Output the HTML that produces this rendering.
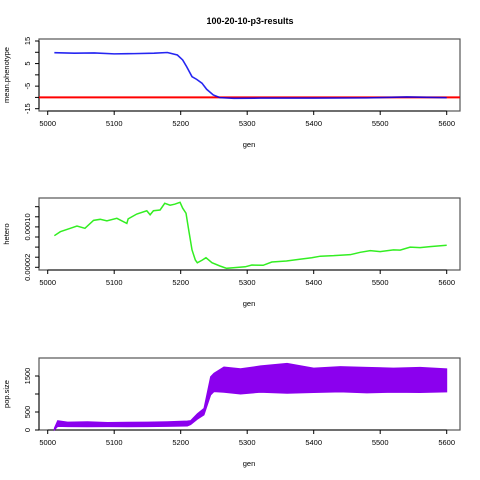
<!DOCTYPE html>
<html><head><meta charset="utf-8"><style>
body{margin:0;background:#fff}
svg{display:block;font-family:"Liberation Sans",Arial,sans-serif}
</style></head><body>
<svg id="c" width="480" height="480" viewBox="0 0 480 480">
<text x="250" y="24" font-size="9" font-weight="bold" text-anchor="middle">100-20-10-p3-results</text>
</svg>
<script>
// ---- data ----
const xTicks = [5000, 5100, 5200, 5300, 5400, 5500, 5600];
const phenoGen = [5010,5040,5070,5100,5130,5160,5180,5195,5203,5209,5217,5224,5232,5239,5249,5259,5280,5320,5400,5480,5540,5600];
const phenoVal = [9.8,9.6,9.7,9.3,9.4,9.6,9.9,8.8,6.6,3.6,-0.8,-2,-3.7,-6.4,-8.9,-10.1,-10.4,-10.3,-10.3,-10.2,-9.8,-10.1];
const optimum = [-10];
const phenoTicks = [15,10,5,0,-5,-10,-15];
const phenoLabels = ["15","","5","","-5","","-15"];
const heteroGen = [5010,5019,5034,5044,5056,5069,5079,5089,5104,5119,5121,5134,5149,5154,5159,5169,5176,5184,5191,5199,5203,5208,5212,5217,5222,5225,5232,5238,5247,5259,5269,5279,5297,5307,5324,5337,5359,5379,5397,5410,5430,5455,5470,5485,5500,5520,5530,5545,5560,5575,5600];
const heteroVal = [8.26,9.05,9.72,10.18,9.72,11.3,11.5,11.2,11.7,10.7,11.6,12.55,13.2,12.4,13.2,13.35,14.67,14.3,14.5,14.87,13.7,12.7,9.4,5.45,3.45,2.9,3.4,3.9,2.9,2.26,1.8,1.9,2.1,2.45,2.4,3.05,3.25,3.6,3.9,4.2,4.3,4.5,4.97,5.3,5.1,5.45,5.4,6.0,5.9,6.1,6.36];
const heteroTicks = [14,12,10,8,6,4,2];
const heteroLabels = ["","","0.00010","","","","0.00002"];
const popGen = [5010,5015,5030,5060,5090,5120,5150,5180,5210,5215,5225,5235,5245,5250,5265,5290,5320,5360,5400,5440,5480,5520,5560,5600];
const popLow = [0,100,95,90,95,90,95,100,110,150,300,420,970,1065,1050,1000,1050,1020,1040,1060,1030,1050,1040,1060];
const popHigh = [50,260,220,230,210,215,220,230,250,260,450,600,1480,1575,1750,1700,1780,1850,1720,1760,1740,1720,1740,1700];
const popTicks = [0,500,1000,1500];
const popLabels = ["0","500","","1500"];
// ---- drawing ----
const svg = document.getElementById('c');
const NS = 'http://www.w3.org/2000/svg';
function mk(tag, attrs, parent){const e=document.createElementNS(NS,tag);for(const k in attrs)e.setAttribute(k,attrs[k]);(parent||svg).appendChild(e);return e;}
const xs = g => 47.7 + (g-5000)/600*399;
function panel(top, name, ylab, yScale, ticks, labels){
  const g = mk('g',{});
  
  
  const f = mk('rect',{x:39,y:top,width:421,height:72,fill:'none',stroke:'#555','stroke-width':1.2},g);
  
  
  const bot = top+72;
  mk('line',{x1:xs(5000),x2:xs(5600),y1:bot,y2:bot,stroke:'#000'},g);
  xTicks.forEach(t=>{
    mk('line',{x1:xs(t),x2:xs(t),y1:bot,y2:bot+4,stroke:'#000'},g);
    const tx = mk('text',{x:xs(t),y:bot+15,'font-size':7.5,'text-anchor':'middle'},g);
    tx.textContent = t;
    
    
  });
  const xl = mk('text',{x:249,y:bot+36,'font-size':7.5,'text-anchor':'middle'},g);
  xl.textContent='gen';
  
  
  const y0 = yScale(ticks[0]), y1 = yScale(ticks[ticks.length-1]);
  mk('line',{x1:39,x2:39,y1:y0,y2:y1,stroke:'#000'},g);
  ticks.forEach((t,i)=>{
    const y=yScale(t);
    mk('line',{x1:35,x2:39,y1:y,y2:y,stroke:'#000'},g);
    if(labels[i]){
      const tx = mk('text',{x:30,y:y,'font-size':7.5,'text-anchor':'middle',transform:`rotate(-90 30 ${y})`},g);
      tx.textContent=labels[i];
      
      
    }
  });
  const yl = mk('text',{x:9,y:top+36,'font-size':7.5,'text-anchor':'middle',transform:`rotate(-90 9 ${top+36})`},g);
  yl.textContent=ylab;
  
  
  return g;
}
// panel 1
const y1s = v => 41 + (15-v)/30*67.7;
const g1 = panel(39,'phenotype','mean.phenotype',y1s,phenoTicks,phenoLabels);
const red = mk('line',{x1:39,x2:460,y1:y1s(optimum[0]),y2:y1s(optimum[0]),stroke:'#ff0000','stroke-width':2},g1);


const bl = mk('polyline',{points:phenoGen.map((g,i)=>xs(g)+','+y1s(phenoVal[i])).join(' '),fill:'none',stroke:'#0000ee','stroke-width':1.6,'stroke-opacity':0.85},g1);


// panel 2
const y2s = v => 267.3 - (v-2)/2*10.1;
const g2 = panel(198,'hetero','hetero',y2s,heteroTicks,heteroLabels);
const gl = mk('polyline',{points:heteroGen.map((g,i)=>xs(g)+','+y2s(heteroVal[i])).join(' '),fill:'none',stroke:'#33ee22','stroke-width':1.5},g2);


// panel 3
const y3s = v => 430 - v/500*18;
const g3 = panel(358,'popsize','pop.size',y3s,popTicks,popLabels);
let pts=[];
popGen.forEach((g,i)=>pts.push(xs(g)+','+y3s(popHigh[i])));
for(let i=popGen.length-1;i>=0;i--) pts.push(xs(popGen[i])+','+y3s(popLow[i]));
const band = mk('polygon',{points:pts.join(' '),fill:'#8b00ee',stroke:'#8b00ee','stroke-width':1},g3);


</script>
</body></html>
